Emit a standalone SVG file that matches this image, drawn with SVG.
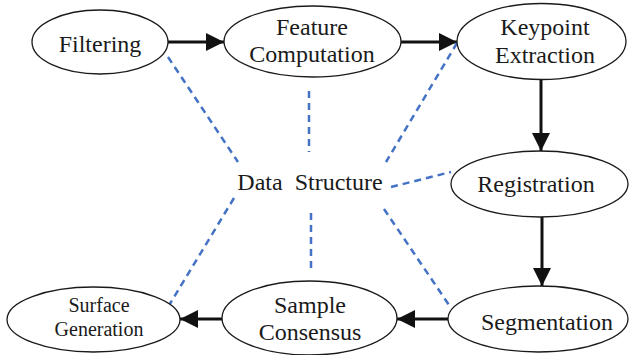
<svg xmlns="http://www.w3.org/2000/svg" width="629" height="355" viewBox="0 0 629 355">
<style>
.n{fill:#fff;stroke:#1a1a1a;stroke-width:1.3}
.a{stroke:#111;stroke-width:3;fill:none;marker-end:url(#ah)}
.d{stroke:#4472C4;stroke-width:2.5;stroke-dasharray:7 5;fill:none}
</style>
<defs>
<marker id="ah" markerWidth="6" markerHeight="6" refX="6" refY="3" orient="auto" markerUnits="strokeWidth"><path d="M0,0 L6,3 L0,6 Z" fill="#111"/></marker>
</defs>
<g id="connectors">
<line class="a" x1="168" y1="42" x2="224" y2="42"/>
<line class="a" x1="401" y1="42" x2="457" y2="42"/>
<line class="a" x1="541" y1="80" x2="541" y2="151"/>
<line class="a" x1="542" y1="217" x2="542" y2="286"/>
<line class="a" x1="448" y1="319" x2="397" y2="319"/>
<line class="a" x1="222" y1="319" x2="180" y2="319"/>
<line class="d" x1="168" y1="57" x2="238" y2="162"/>
<line class="d" x1="309" y1="91" x2="309" y2="152"/>
<line class="d" x1="457" y1="43" x2="386" y2="162"/>
<line class="d" x1="391" y1="187" x2="451" y2="172"/>
<line class="d" x1="384" y1="209" x2="449" y2="305"/>
<line class="d" x1="311" y1="213" x2="311" y2="268"/>
<line class="d" x1="234" y1="198" x2="168" y2="307"/>
</g>
<g id="filtering"><ellipse class="n" cx="100" cy="42" rx="68" ry="32"/><text style="font-family:'Liberation Serif',serif;font-size:24px;fill:#1a1a1a;text-anchor:middle" x="100" y="52">Filtering</text></g>
<g id="feature"><ellipse class="n" cx="312.5" cy="41.5" rx="88.5" ry="35.5"/><text style="font-family:'Liberation Serif',serif;font-size:24px;fill:#1a1a1a;text-anchor:middle" x="312" y="35">Feature</text><text style="font-family:'Liberation Serif',serif;font-size:24px;fill:#1a1a1a;text-anchor:middle" x="312" y="62">Computation</text></g>
<g id="keypoint"><ellipse class="n" cx="541.5" cy="41.5" rx="84.5" ry="38"/><text style="font-family:'Liberation Serif',serif;font-size:24px;fill:#1a1a1a;text-anchor:middle" x="545" y="35">Keypoint</text><text style="font-family:'Liberation Serif',serif;font-size:24px;fill:#1a1a1a;text-anchor:middle" x="545" y="63">Extraction</text></g>
<g id="datastructure"><text style="font-family:'Liberation Serif',serif;font-size:24px;fill:#1a1a1a;text-anchor:middle;white-space:pre" x="310" y="190">Data  Structure</text></g>
<g id="registration"><ellipse class="n" cx="539.5" cy="184" rx="88.5" ry="33"/><text style="font-family:'Liberation Serif',serif;font-size:24px;fill:#1a1a1a;text-anchor:middle" x="536" y="192">Registration</text></g>
<g id="segmentation"><ellipse class="n" cx="538" cy="319" rx="90" ry="33"/><text style="font-family:'Liberation Serif',serif;font-size:24px;fill:#1a1a1a;text-anchor:middle" x="547" y="330">Segmentation</text></g>
<g id="sample"><ellipse class="n" cx="309.5" cy="318" rx="87.5" ry="37"/><text style="font-family:'Liberation Serif',serif;font-size:24px;fill:#1a1a1a;text-anchor:middle" x="310" y="313">Sample</text><text style="font-family:'Liberation Serif',serif;font-size:24px;fill:#1a1a1a;text-anchor:middle" x="310" y="340">Consensus</text></g>
<g id="surface"><ellipse class="n" cx="93.5" cy="319.5" rx="86.5" ry="32.5"/><text style="font-family:'Liberation Serif',serif;font-size:20px;fill:#1a1a1a;text-anchor:middle" x="99" y="312">Surface</text><text style="font-family:'Liberation Serif',serif;font-size:20px;fill:#1a1a1a;text-anchor:middle" x="99" y="336">Generation</text></g>
</svg>
